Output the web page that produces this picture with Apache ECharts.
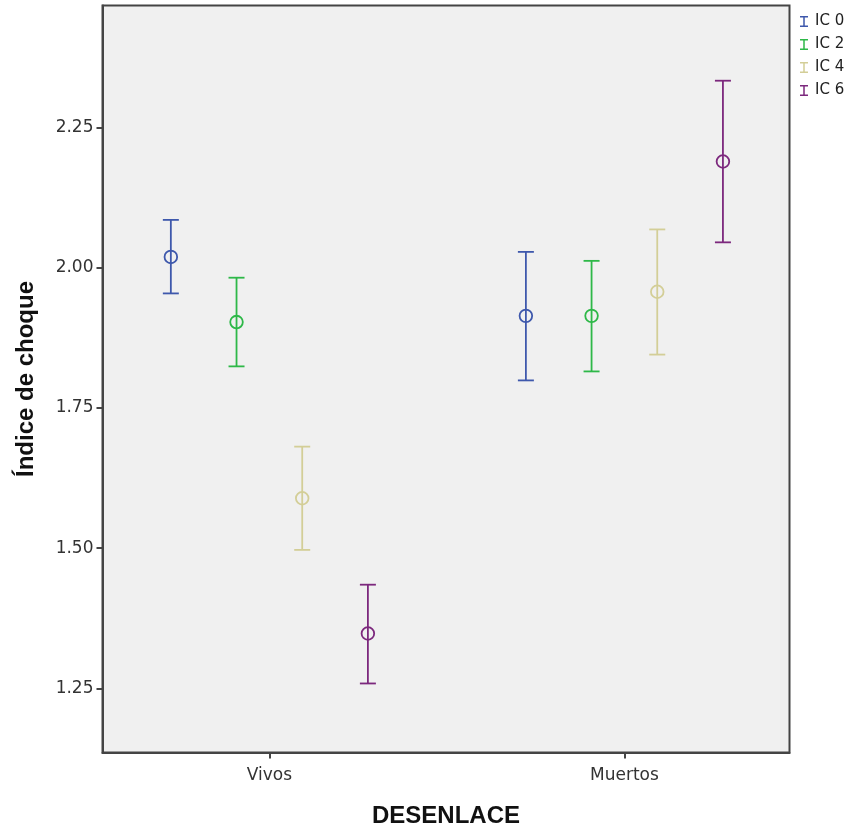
<!DOCTYPE html>
<html lang="es">
<head>
    <meta charset="UTF-8">
    <title>Índice de choque</title>
    <script src="https://cdn.jsdelivr.net/npm/echarts@6/dist/echarts.min.js"></script>
    <style>
        html, body { margin: 0; padding: 0; background: #fff; }
        #chart { width: 850px; height: 829px; }
    </style>
</head>
<body>
    <div id="chart"></div>
<script>
    // categorías del eje X
    var categories = ['Vivos', 'Muertos'];
    var seriesNames = ['IC 0', 'IC 2', 'IC 4', 'IC 6'];
    var yTicks = [1.25, 1.50, 1.75, 2.00, 2.25];

    // medias e intervalos (Vivos, Muertos)
    var ic0Mean = [2.019, 1.914];
    var ic0Low = [1.954, 1.799];
    var ic0High = [2.085, 2.028];

    var ic2Mean = [1.903, 1.914];
    var ic2Low = [1.824, 1.815];
    var ic2High = [1.982, 2.012];

    var ic4Mean = [1.589, 1.957];
    var ic4Low = [1.497, 1.845];
    var ic4High = [1.681, 2.068];

    var ic6Mean = [1.348, 2.189];
    var ic6Low = [1.259, 2.045];
    var ic6High = [1.435, 2.333];

    var colors = ['#3E58AC', '#2EB848', '#D3CE97', '#7C287D'];
    var font = "'DejaVu Sans', sans-serif";
    var boldFont = "'Liberation Sans', Arial, sans-serif";
    var spread = 0.185;

    var groups = [
        [ic0Mean, ic0Low, ic0High],
        [ic2Mean, ic2Low, ic2High],
        [ic4Mean, ic4Low, ic4High],
        [ic6Mean, ic6Low, ic6High]
    ];

    // barra de error: línea vertical, dos topes y círculo en la media
    function renderBar(color) {
        return function (params, api) {
            var x = api.value(0);
            var lo = api.coord([x, api.value(1)]);
            var hi = api.coord([x, api.value(2)]);
            var m = api.coord([x, api.value(3)]);
            var hw = 8;
            var st = { stroke: color, lineWidth: 1.8, fill: null };
            return {
                type: 'group',
                children: [
                    { type: 'line', shape: { x1: lo[0], y1: lo[1], x2: hi[0], y2: hi[1] }, style: st },
                    { type: 'line', shape: { x1: lo[0] - hw, y1: lo[1], x2: lo[0] + hw, y2: lo[1] }, style: st },
                    { type: 'line', shape: { x1: hi[0] - hw, y1: hi[1], x2: hi[0] + hw, y2: hi[1] }, style: st },
                    { type: 'circle', shape: { cx: m[0], cy: m[1], r: 6.3 }, style: { stroke: color, lineWidth: 1.8, fill: 'rgba(0,0,0,0)' } }
                ]
            };
        };
    }

    var series = [];
    for (var i = 0; i < seriesNames.length; i++) {
        var g = groups[i];
        var data = [];
        for (var c = 0; c < categories.length; c++) {
            data.push([c + 1 + (i - 1.5) * spread, g[1][c], g[2][c], g[0][c]]);
        }
        series.push({
            name: seriesNames[i],
            type: 'custom',
            color: colors[i],
            itemStyle: { color: colors[i] },
            renderItem: renderBar(colors[i]),
            encode: { x: 0, y: [1, 2, 3] },
            data: data,
            silent: true
        });
    }

    var chart = echarts.init(document.getElementById('chart'));
    chart.setOption({
        animation: false,
        backgroundColor: '#ffffff',
        grid: {
            left: 102.5, right: 60.5, top: 5.5, bottom: 76.5,
            outerBoundsMode: 'none',
            containLabel: false,
            show: true,
            backgroundColor: '#f0f0f0',
            borderColor: '#444',
            borderWidth: 2
        },
        legend: {
            orient: 'vertical',
            left: 795,
            top: 9,
            itemWidth: 8,
            itemHeight: 11,
            itemGap: 8,
            data: seriesNames.map(function (n) {
                return { name: n, icon: 'path://M0,0H8V1.5H4.75V9.5H8V11H0V9.5H3.25V1.5H0Z' };
            }),
            textStyle: { fontFamily: font, fontSize: 15, color: '#222', padding: [0, 0, 0, 2] }
        },
        xAxis: {
            type: 'value',
            min: 0.530,
            max: 2.465,
            name: 'DESENLACE',
            nameLocation: 'middle',
            nameGap: 52,
            nameTextStyle: { fontFamily: boldFont, fontSize: 24, fontWeight: 'bold', color: '#111' },
            splitLine: { show: false },
            axisLine: { show: true, lineStyle: { color: '#444', width: 2 } },
            axisTick: { show: true, customValues: [1, 2], length: 6, lineStyle: { color: '#444', width: 2 } },
            axisLabel: {
                customValues: [1, 2],
                margin: 15,
                fontFamily: font, fontSize: 17, color: '#333',
                formatter: function (v) { return categories[Math.round(v) - 1]; }
            }
        },
        yAxis: {
            type: 'value',
            min: 1.136,
            max: 2.467,
            name: 'Índice de choque',
            nameLocation: 'middle',
            nameGap: 64,
            nameTextStyle: { fontFamily: boldFont, fontSize: 24, fontWeight: 'bold', color: '#111' },
            splitLine: { show: false },
            axisLine: { show: true, lineStyle: { color: '#444', width: 2 } },
            axisTick: { show: true, customValues: yTicks, length: 6, lineStyle: { color: '#444', width: 2 } },
            axisLabel: {
                customValues: yTicks,
                margin: 9,
                fontFamily: font, fontSize: 17, color: '#333',
                formatter: function (v) { return v.toFixed(2); }
            }
        },
        series: series
    });
</script>
</body>
</html>
